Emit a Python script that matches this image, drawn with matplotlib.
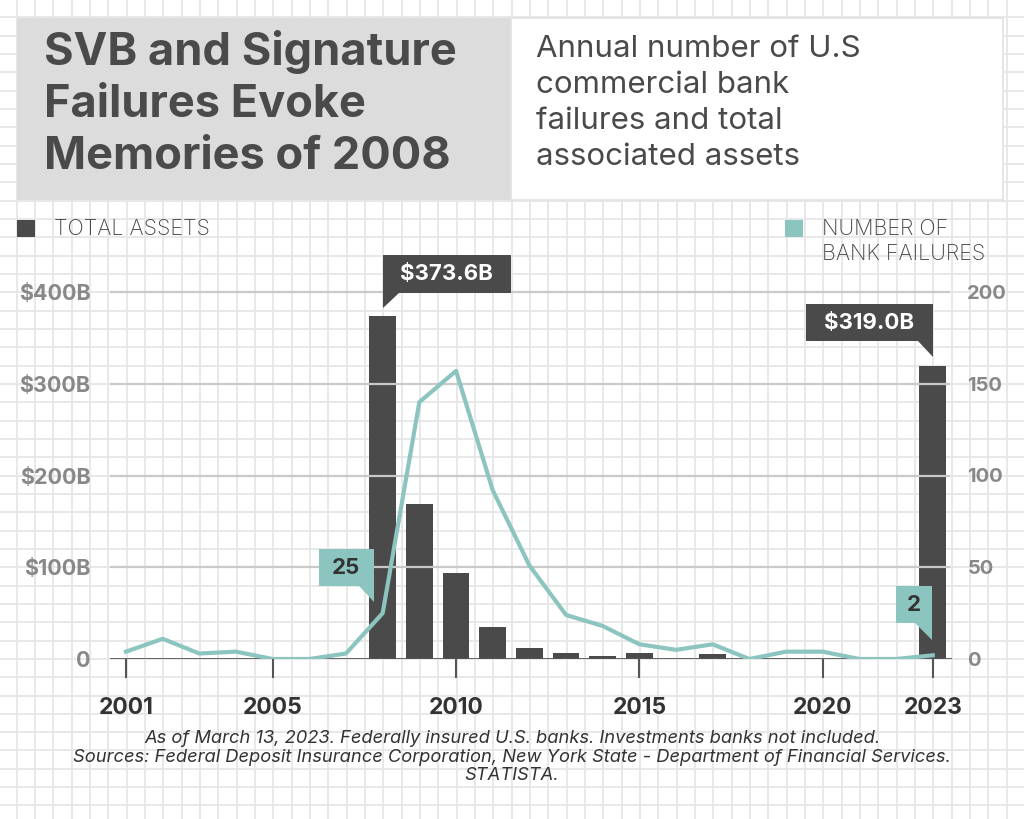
import matplotlib
matplotlib.use('Agg')
import matplotlib.pyplot as plt
import matplotlib.patches as mpatches
import numpy as np

# data
years = list(range(2001, 2024))
assets = [0, 0, 0, 0, 0, 0, 0, 373.6, 169, 94, 35, 12, 6, 3, 6, 0, 5, 0, 0, 0, 0, 0, 319.0]
failures = [4, 11, 3, 4, 0, 0, 3, 25, 140, 157, 92, 51, 24, 18, 8, 5, 8, 0, 4, 4, 0, 0, 2]
xticks = [2001, 2005, 2010, 2015, 2020, 2023]
left_ticks = [0, 100, 200, 300, 400]
left_labels = ['0', '$100B', '$200B', '$300B', '$400B']
right_ticks = [0, 50, 100, 150, 200]

W, H = 1024, 819
BAR = '#4a4a4a'
TEAL = '#8cc5c0'
GREY_TXT = '#888888'
FONT = 'Inter'

plt.rcParams['font.family'] = [FONT, 'DejaVu Sans']

fig = plt.figure(figsize=(W / 100, H / 100), dpi=100)
fig.patch.set_facecolor('white')

# background grid paper + header boxes (pixel coordinates)
bg = fig.add_axes([0, 0, 1, 1], zorder=0)
bg.set_xlim(0, W)
bg.set_ylim(H, 0)
bg.axis('off')
for v in np.arange(16.8, W, 18.33):
    bg.axvline(v, color='#e6e6e6', lw=1.3, zorder=0)
for v in np.arange(17.3, H, 18.33):
    bg.axhline(v, color='#e6e6e6', lw=1.3, zorder=0)

bg.add_patch(mpatches.Rectangle((17, 18), 494, 182, fc='#dcdcdc', ec='none', zorder=2))
bg.add_patch(mpatches.Rectangle((511, 18), 492, 182, fc='white', ec='#e2e2e2', lw=1.2, zorder=2))
bg.text(44, 104, 'SVB and Signature\nFailures Evoke\nMemories of 2008', fontsize=32.5,
        fontweight='bold', color='#4a4a4a', va='center', ha='left', linespacing=1.3, zorder=3)
bg.text(536, 103, 'Annual number of U.S\ncommercial bank\nfailures and total\nassociated assets',
        fontsize=22.5, color='#4a4a4a', va='center', ha='left', linespacing=1.37, zorder=3)

# legend
bg.add_patch(mpatches.Rectangle((17, 220), 18, 17, fc=BAR, ec='none', zorder=2))
bg.text(54, 229, 'TOTAL ASSETS', fontsize=15.5, color='#444444', va='center', fontweight='light',
        zorder=3)
bg.add_patch(mpatches.Rectangle((785, 220), 18, 17, fc=TEAL, ec='none', zorder=2))
bg.text(822, 241.5, 'NUMBER OF\nBANK FAILURES', fontsize=15.5, color='#444444', va='center',
        fontweight='light', linespacing=1.28, zorder=3)

# footnote
bg.text(512, 757, 'As of March 13, 2023. Federally insured U.S. banks. Investments banks not included.\n'
        'Sources: Federal Deposit Insurance Corporation, New York State - Department of Financial Services.\n'
        'STATISTA.', fontsize=13.2, style='italic', color='#333333', ha='center', va='center',
        linespacing=1.15, zorder=3)

# main chart
ax = fig.add_axes([110 / W, (H - 659) / H, 842 / W, 379 / H], zorder=1)
ax.set_facecolor('none')
ax.bar(years, assets, width=0.73, color=BAR, zorder=2)
for v in left_ticks[1:]:
    ax.axhline(v, xmin=0, xmax=839 / 842, color='#c9c9c9', lw=1.6, zorder=3)
ax.axhline(0, color='#555555', lw=2, zorder=4)
ax.set_xlim(2001 - 16 / 36.67, 2001 + 826 / 36.67)
ax.set_ylim(0, 379 / 0.9175)
for s in ax.spines.values():
    s.set_visible(False)
ax.set_xticks(xticks)
ax.set_xticklabels([str(t) for t in xticks], fontsize=16.5, fontweight='bold', color='#333333')
ax.tick_params(axis='x', length=14, width=1.5, color='#555555', pad=13)
ax.set_yticks(left_ticks)
ax.set_yticklabels(left_labels, fontsize=15.5, fontweight='bold', color=GREY_TXT)
ax.tick_params(axis='y', length=0, pad=14)

ax2 = ax.twinx()
ax2.plot(years, failures, color=TEAL, lw=3, zorder=5, solid_joinstyle='round')
ax2.set_ylim(0, 379 / 0.9175 / 2)
for s in ax2.spines.values():
    s.set_visible(False)
ax2.set_yticks(right_ticks)
ax2.set_yticklabels([str(t) for t in right_ticks], fontsize=14.5, fontweight='bold', color=GREY_TXT)
ax2.tick_params(axis='y', length=0, pad=11)

# callouts drawn in pixel space on an overlay
ov = fig.add_axes([0, 0, 1, 1], zorder=5)
ov.set_xlim(0, W)
ov.set_ylim(H, 0)
ov.axis('off')


def to_px(a, x, y):
    dx, dy = a.transData.transform((x, y))
    return dx, H - dy


def callout(a, x, y, off, w, h, gap, notch, side, text, fc, tc, fs):
    px, py = to_px(a, x, y)
    tx, ty = px + off[0], py + off[1]
    if side == 'left':
        verts = [(tx, ty), (tx, ty - gap - h), (tx + w, ty - gap - h), (tx + w, ty - gap),
                 (tx + notch, ty - gap)]
        cx = tx + w / 2
    else:
        verts = [(tx, ty), (tx, ty - gap - h), (tx - w, ty - gap - h), (tx - w, ty - gap),
                 (tx - notch, ty - gap)]
        cx = tx - w / 2
    ov.add_patch(mpatches.Polygon(verts, closed=True, fc=fc, ec='none'))
    ov.text(cx, ty - gap - h / 2, text, ha='center', va='center', fontsize=fs,
            fontweight='bold', color=tc)


callout(ax, 2008, assets[7], (0, -8), 128, 38, 15, 16, 'left', '$373.6B', BAR, 'white', 16)
callout(ax, 2023, assets[22], (0, -9), 127, 37, 16, 15, 'right', '$319.0B', BAR, 'white', 16)
callout(ax2, 2008, failures[7], (-9, -11), 55, 37, 16, 15, 'right', '25', TEAL, '#333333', 16)
callout(ax2, 2023, failures[22], (-1, -15), 36, 37, 17, 17, 'right', '2', TEAL, '#333333', 16)

fig.savefig('out.png', dpi=100, facecolor='white')
